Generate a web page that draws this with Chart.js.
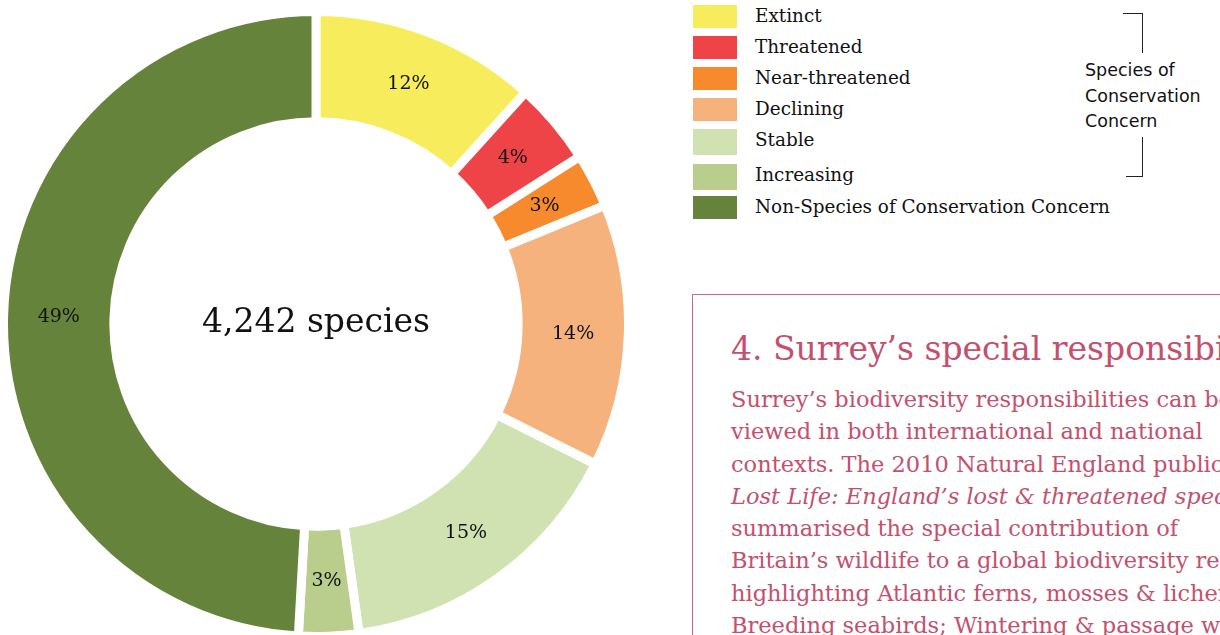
<!DOCTYPE html>
<html>
<head>
<meta charset="utf-8">
<script src="https://cdn.jsdelivr.net/npm/chart.js@4/dist/chart.umd.min.js"></script>
<style>
  html, body { margin: 0; padding: 0; width: 1220px; height: 635px; overflow: hidden; background: #fff; }
  #wrap { position: absolute; left: 0; top: 0; width: 632px; height: 648px; }
  .legend { position: absolute; left: 693px; top: 0; font-family: "DejaVu Serif", serif; font-size: 18.4px; color: #111; }
  .row { position: absolute; left: 0; white-space: nowrap; }
  .sw { position: absolute; left: 0; width: 44px; height: 23px; }
  .lab { position: absolute; left: 62px; line-height: 20px; }
  .bracket { position: absolute; border-color: #222; border-style: solid; border-width: 0; }
  .soc { position: absolute; left: 1085px; top: 58px; font-family: "DejaVu Sans", sans-serif; font-size: 17.5px; line-height: 25.5px; color: #111; }
  .box { position: absolute; left: 692px; top: 294px; width: 600px; height: 400px; border: 1.5px solid #cf6a86; }
  .box h2 { margin: 0; position: absolute; left: 38px; top: 34px; font-family: "DejaVu Serif", serif; font-weight: normal; font-size: 33px; color: #c4506e; white-space: nowrap; }
  .box p { margin: 0; position: absolute; left: 38px; top: 88px; font-family: "DejaVu Serif", serif; font-size: 22.5px; line-height: 32.3px; color: #c4506e; white-space: nowrap; }
</style>
</head>
<body>
<div id="wrap"><canvas id="myChart"></canvas></div>
<div class="legend" id="legend"></div>
<div class="bracket" style="left:1123px; top:13px; width:19px; height:39px; border-top-width:1.5px; border-right-width:1.5px;"></div>
<div class="bracket" style="left:1126px; top:137px; width:16px; height:39px; border-bottom-width:1.5px; border-right-width:1.5px;"></div>
<div class="soc">Species of<br>Conservation<br>Concern</div>
<div class="box">
  <h2>4. Surrey’s special responsibilities</h2>
  <p>Surrey’s biodiversity responsibilities can be<br>
  viewed in both international and national<br>
  contexts. The 2010 Natural England publication<br>
  <i>Lost Life: England’s lost &amp; threatened species</i><br>
  summarised the special contribution of<br>
  Britain’s wildlife to a global biodiversity resource,<br>
  highlighting Atlantic ferns, mosses &amp; lichens;<br>
  Breeding seabirds; Wintering &amp; passage waterbirds</p>
</div>
<script>
const ctx = document.querySelector("#myChart").getContext('2d');

// share of the 4,242 species, clockwise from the top
const categories = ["Extinct", "Threatened", "Near-threatened", "Declining", "Stable", "Increasing", "Non-Species of Conservation Concern"];
const shares = [11.7, 4.3, 2.8, 13.6, 15.4, 3.1, 49.1];
const colors = ["#f7ec5c", "#ef4447", "#f68a2d", "#f5b27d", "#d0e1b2", "#b9ce8c", "#66833c"];
const legendTops = [5, 36, 67, 98, 129, 164, 196];
const totalLabel = "4,242 species";

// legend (html)
const legend = document.getElementById("legend");
categories.forEach((c, i) => {
  const row = document.createElement("div");
  row.className = "row";
  row.style.top = legendTops[i] + "px";
  row.innerHTML = '<div class="sw" style="background:' + colors[i] + ';' + (i == 4 || i == 5 ? 'height:26px;' : '') + '"></div>' +
    '<div class="lab" style="top:1px">' + c + '</div>';
  legend.appendChild(row);
});

const sliceLabels = {
  id: 'sliceLabels',
  afterDatasetsDraw(chart) {
    const c = chart.ctx;
    const meta = chart.getDatasetMeta(0);
    c.save();
    c.fillStyle = '#111';
    c.textAlign = 'center';
    c.textBaseline = 'middle';
    c.font = '19px "DejaVu Serif"';
    meta.data.forEach((arc, i) => {
      const p = arc.getProps(['x', 'y', 'startAngle', 'endAngle', 'innerRadius', 'outerRadius']);
      const a = (p.startAngle + p.endAngle) / 2;
      const r = (p.innerRadius + p.outerRadius) / 2;
      c.fillText(Math.round(shares[i]) + '%', p.x + Math.cos(a) * r, p.y + Math.sin(a) * r);
    });
    // centre text
    const first = meta.data[0];
    c.font = '33px "DejaVu Serif"';
    c.fillText(totalLabel, first.x, first.y - 1);
    c.restore();
  }
};

const config = {
  type: 'doughnut',
  data: {
    labels: categories,
    datasets: [{
      data: shares,
      backgroundColor: colors,
      borderColor: '#ffffff',
      borderWidth: 9,
      hoverOffset: 0
    }]
  },
  options: {
    responsive: true,
    maintainAspectRatio: false,
    animation: false,
    radius: 312.5,
    cutout: 201.5,
    plugins: {
      legend: { display: false },
      tooltip: { enabled: false }
    }
  },
  plugins: [sliceLabels]
};

const chart = new Chart(ctx, config);
</script>
</body>
</html>
